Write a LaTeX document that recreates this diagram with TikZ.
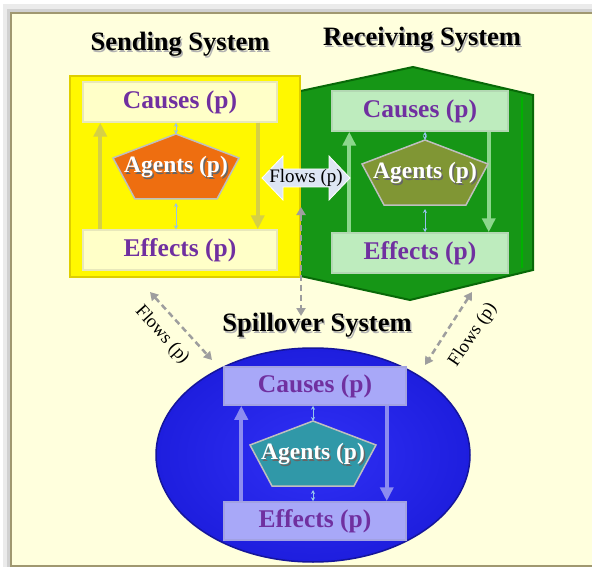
\documentclass[tikz,border=0pt]{standalone}
\usepackage{fontspec}
\setmainfont{Liberation Serif}
\usetikzlibrary{arrows.meta}
\usetikzlibrary{calc}
\usepackage{xcolor}

\definecolor{cream}{RGB}{255,255,221}
\definecolor{framecol}{RGB}{160,152,112}
\definecolor{sendyel}{RGB}{255,248,0}
\definecolor{sendedge}{RGB}{222,206,0}
\definecolor{recvgrn}{RGB}{22,150,22}
\definecolor{recvedge}{RGB}{8,105,8}
\definecolor{spillin}{RGB}{48,48,245}
\definecolor{spillout}{RGB}{30,30,222}
\definecolor{causetxt}{RGB}{112,48,160}
\definecolor{yboxcol}{RGB}{255,255,200}
\definecolor{gboxcol}{RGB}{190,236,190}
\definecolor{bboxcol}{RGB}{168,168,248}
\definecolor{yarrcol}{RGB}{214,208,70}
\definecolor{garrcol}{RGB}{140,215,140}
\definecolor{barrcol}{RGB}{140,140,240}
\definecolor{yagcol}{RGB}{238,110,16}
\definecolor{gagcol}{RGB}{128,150,52}
\definecolor{bagcol}{RGB}{48,152,168}
\definecolor{linkcol}{RGB}{150,195,235}
\definecolor{flowcol}{RGB}{222,230,244}
\definecolor{dashcol}{RGB}{158,158,158}

\newcommand{\shadowed}[2]{\leavevmode\rlap{\kern1.5pt\raisebox{-1.5pt}{\color{#1}#2}}#2}

\begin{document}
\begin{tikzpicture}[x=1pt,y=-1pt,
    header/.style={font=\fontsize{26.5}{28}\selectfont\bfseries},
    sysbox/.style={line width=1.5pt, text=causetxt, inner sep=0pt,
      font=\fontsize{25.5}{27}\selectfont\bfseries},
    bigarrow/.style={line width=4pt, -{Triangle[width=13pt,length=14pt]}},
    linkarrow/.style={linkcol, line width=1pt, {Stealth[length=4pt,width=4pt]}-{Stealth[length=4pt,width=4pt]}},
    agenttext/.style={text=white, font=\fontsize{23.5}{25}\selectfont\bfseries},
    dashlink/.style={dashcol, line width=2.5pt, dash pattern=on 6pt off 4pt,
      {Triangle[width=9pt,length=8pt]}-{Triangle[width=9pt,length=8pt]}},
    flowtext/.style={font=\fontsize{19}{20}\selectfont, inner sep=0pt}]

      \useasboundingbox (0,0) rectangle (592,567);

      % Frame
      \fill[white] (0,0) rectangle (592,567);
      \fill[black!8] (3,4) rectangle (592,567);
      \fill[black!18] (7,9) rectangle (592,567);
      \filldraw[fill=cream, draw=framecol, line width=1.2pt] (11,13) rectangle (596,566);

      % Systems
      \filldraw[fill=recvgrn, draw=recvedge, line width=2pt]
        (413,67) -- (533,95) -- (533,270) -- (410,300) -- (296,275) -- (296,92) -- cycle;
      \draw[green!70!black, line width=1.5pt] (522,97) -- (522,268);
      \filldraw[fill=sendyel, draw=sendedge, line width=2.5pt] (70,76) rectangle (300,277);
      \shadedraw[inner color=spillin, outer color=spillout, draw=spillout!70!black, line width=1.5pt]
        (313,455) ellipse [x radius=157, y radius=107];

      \node[header] (sendlbl) at (180,45) {\shadowed{black!30}{Sending System}};
      \node[header] (recvlbl) at (422,40) {\shadowed{black!30}{Receiving System}};
      \node[header] (spilllbl) at (317,326) {\shadowed{black!30}{Spillover System}};

      \foreach \n/\cx/\cy/\ey/\w/\h/\ax/\ay/\bcol/\acol/\gcol in
        {y/180/102/250/194/40/176/168/yboxcol/yarrcol/yagcol,
         g/420/111/253/176/40/425/174/gboxcol/garrcol/gagcol,
         b/315/386/521/182/38/313/455/bboxcol/barrcol/bagcol}
      {
        \node[sysbox, fill=\bcol, draw=\bcol!82!gray, minimum width=\w pt, minimum height=\h pt] (cause\n) at (\cx,\cy) {Causes (p)};
        \node[sysbox, fill=\bcol, draw=\bcol!82!gray, minimum width=\w pt, minimum height=\h pt] (effect\n) at (\cx,\ey) {Effects (p)};

        \draw[bigarrow, \acol] ($(effect\n.north west)+(18,0)$) -- ($(cause\n.south west)+(18,0)$);
        \draw[bigarrow, \acol] ($(cause\n.south east)+(-20,0)$) -- ($(effect\n.north east)+(-20,0)$);

        \coordinate (ag\n) at (\ax,\ay);
        \filldraw[fill=\gcol, draw=black!25, line width=1.5pt]
          ($(ag\n)+(0,-34)$) -- ($(ag\n)+(63,-10)$) -- ($(ag\n)+(41,31)$)
          -- ($(ag\n)+(-41,31)$) -- ($(ag\n)+(-63,-10)$) -- cycle;
        \node[agenttext] (agent\n) at (ag\n) {\shadowed{black!60}{Agents (p)}};

        \draw[linkarrow] (cause\n.south -| ag\n) -- ($(ag\n)+(0,-34)$);
        \draw[linkarrow] ($(ag\n)+(0,35)$) -- (effect\n.north -| ag\n);
      }

      % Flows
      \coordinate (fl) at (306,178);
      \filldraw[fill=flowcol, draw=white, line width=0.8pt]
        ($(fl)+(-44,0)$) -- ++(21,-22) -- ++(0,13) -- ++(46,0) -- ++(0,-13) -- ++(21,22)
        -- ++(-21,22) -- ++(0,-13) -- ++(-46,0) -- ++(0,13) -- cycle;
      \node[flowtext] (flows) at (fl) {Flows (p)};

      \coordinate (vtop) at (301,207);
      \coordinate (vbot) at (301,316);
      \draw[dashlink] (vtop) -- (vbot);

      \coordinate (ltop) at (150,292);
      \coordinate (lbot) at (212,360);
      \draw[dashlink] (ltop) -- (lbot);
      \node[flowtext, font=\fontsize{18.5}{19}\selectfont, rotate=-48] (lflows) at (162,335) {Flows (p)};

      \coordinate (rtop) at (472,292);
      \coordinate (rbot) at (425,365);
      \draw[dashlink] (rtop) -- (rbot);
      \node[flowtext, font=\fontsize{18.5}{19}\selectfont, rotate=56] (rflows) at (473,335) {Flows (p)};

  \end{tikzpicture}
\end{document}
